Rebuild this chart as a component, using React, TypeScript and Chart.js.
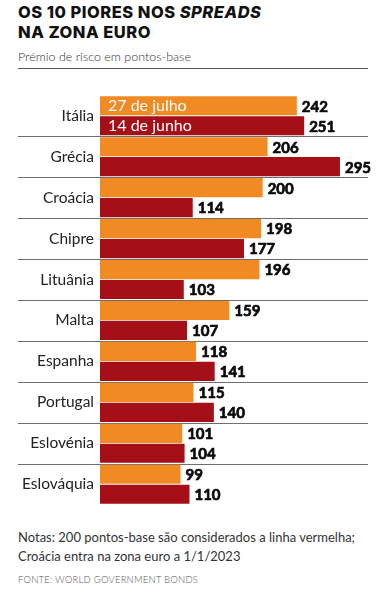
import React, { useEffect, useRef } from "react";
import { Chart, registerables } from "chart.js";

Chart.register(...registerables);

const countries = ["Itália", "Grécia", "Croácia", "Chipre", "Lituânia", "Malta", "Espanha", "Portugal", "Eslovénia", "Eslováquia"];
const july27 = [242, 206, 200, 198, 196, 159, 118, 115, 101, 99];
const june14 = [251, 295, 114, 177, 103, 107, 141, 140, 104, 110];
const seriesLabels = ["27 de julho", "14 de junho"];
const seriesColors = ["#F28A24", "#A50F17"];
const xMax = 359;

const overlay = {
  id: "overlay",
  beforeDatasetsDraw(chart: any) {
    const ctx = chart.ctx;
    const yScale = chart.scales.y;
    ctx.save();
    ctx.strokeStyle = "#6e6e6e";
    ctx.lineWidth = 1;
    for (let i = 1; i < countries.length; i++) {
      const y = Math.round((yScale.getPixelForTick(i - 1) + yScale.getPixelForTick(i)) / 2) + 0.5;
      ctx.beginPath();
      ctx.moveTo(18, y);
      ctx.lineTo(368, y);
      ctx.stroke();
    }
    ctx.restore();
  },
  afterDatasetsDraw(chart: any) {
    const ctx = chart.ctx;
    ctx.save();
    ctx.textBaseline = "middle";
    ctx.textAlign = "left";
    chart.data.datasets.forEach((ds: any, di: number) => {
      const meta = chart.getDatasetMeta(di);
      meta.data.forEach((bar: any, i: number) => {
        ctx.font = "bold 15px Lato";
        ctx.fillStyle = "#0a0a0a";
        ctx.strokeStyle = "#0a0a0a";
        ctx.lineWidth = 0.7;
        ctx.fillText(String(ds.data[i]), bar.x + 5, bar.y + 1);
        ctx.strokeText(String(ds.data[i]), bar.x + 5, bar.y + 1);
        if (i === 0) {
          ctx.font = "16px Lato";
          ctx.fillStyle = "#ffffff";
          ctx.fillText(ds.label, bar.base + 8, bar.y + 0.5);
        }
      });
    });
    ctx.restore();
  },
};

export default function App() {
  const ref = useRef<HTMLCanvasElement>(null);
  useEffect(() => {
    if (!ref.current) return;
    const chart = new Chart(ref.current, {
      type: "bar",
      data: {
        labels: countries,
        datasets: [
          { label: seriesLabels[0], data: july27, backgroundColor: seriesColors[0], categoryPercentage: 0.975, barPercentage: 0.96 },
          { label: seriesLabels[1], data: june14, backgroundColor: seriesColors[1], categoryPercentage: 0.975, barPercentage: 0.96 },
        ],
      },
      options: {
        indexAxis: "y",
        responsive: false,
        animation: false,
        layout: { padding: { top: 10.5, bottom: 5.5, left: 0, right: 0 } },
        plugins: { legend: { display: false }, tooltip: { enabled: false } },
        scales: {
          x: { display: false, min: 0, max: xMax },
          y: {
            afterFit: (scale: any) => { scale.width = 100; },
            grid: { display: false, drawTicks: false },
            border: { display: false },
            ticks: { padding: 6, color: "#222", font: { family: "Lato", size: 15.5 } },
          },
        },
      },
      plugins: [overlay],
    });
    return () => chart.destroy();
  }, []);

  return (
    <div style={{ position: "absolute", left: 0, top: 0, width: 392, height: 592, background: "#fff", overflow: "hidden" }}>
      <div style={{ position: "absolute", left: 18, top: 1.5, fontFamily: "Inter", fontWeight: 800, fontSize: 16.5, lineHeight: "20px", letterSpacing: "0.5px", color: "#111", whiteSpace: "nowrap" }}>
        OS 10 PIORES NOS <i>SPREADS</i>
        <br />NA ZONA EURO
      </div>
      <div style={{ position: "absolute", left: 18, top: 48.7, fontFamily: "Lato", fontWeight: 300, fontSize: 12.5, lineHeight: "15px", color: "#333", whiteSpace: "nowrap" }}>
        Prémio de risco em pontos-base
      </div>
      <div style={{ position: "absolute", left: 18, top: 68, width: 350, height: 1, background: "#555" }} />
      <canvas ref={ref} width={392} height={440} style={{ position: "absolute", left: 0, top: 80, width: 392, height: 440 }} />
      <div style={{ position: "absolute", left: 18, top: 528, fontFamily: "Lato", fontSize: 13, lineHeight: "19px", color: "#333", whiteSpace: "nowrap" }}>
        Notas: 200 pontos-base são considerados a linha vermelha;
        <br />Croácia entra na zona euro a 1/1/2023
      </div>
      <div style={{ position: "absolute", left: 18, top: 573.6, fontFamily: "Lato", fontWeight: 300, fontSize: 9.5, lineHeight: "12px", letterSpacing: "0.2px", color: "#555", whiteSpace: "nowrap" }}>
        FONTE: WORLD GOVERNMENT BONDS
      </div>
    </div>
  );
}
